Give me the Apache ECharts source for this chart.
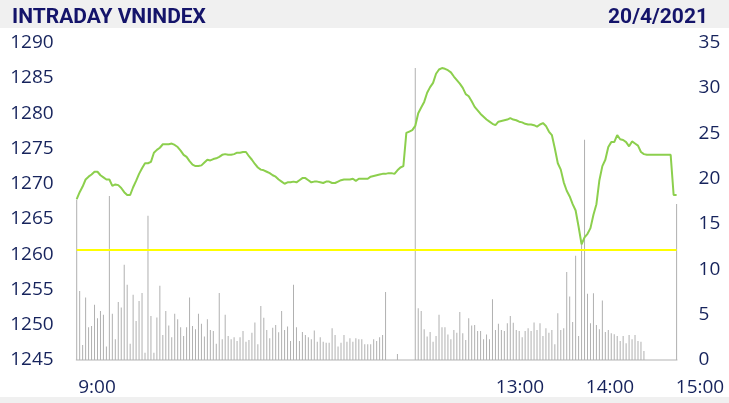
<!DOCTYPE html>
<html>
<head>
<meta charset="utf-8">
<script src="https://cdn.jsdelivr.net/npm/echarts@6/dist/echarts.min.js"></script>
<style>
  html, body { margin: 0; padding: 0; background: #fff; }
  #main { width: 729px; height: 403px; }
</style>
</head>
<body>
<div id="main"></div>
<script>
// VNINDEX intraday, one point per ~1.2 min slot (morning, lunch gap, afternoon, ATC)
var indexValues = [
  1267.8,1268.8,1269.6,1270.6,1271.0,1271.3,1271.7,1271.7,1271.2,1270.9,
  1270.6,1270.6,1269.7,1269.9,1269.8,1269.4,1268.8,1268.4,1268.4,1269.5,
  1270.4,1271.4,1272.2,1272.9,1272.9,1273.1,1274.4,1274.8,1275.1,1275.6,
  1275.6,1275.6,1275.7,1275.5,1275.2,1274.7,1274.1,1273.8,1273.2,1272.7,
  1272.5,1272.5,1272.6,1273.0,1273.4,1273.3,1273.5,1273.6,1273.8,1274.1,
  1274.2,1274.1,1274.1,1274.2,1274.4,1274.4,1274.5,1274.5,1273.9,1273.4,
  1272.8,1272.3,1272.0,1271.9,1271.7,1271.5,1271.2,1271.0,1270.6,1270.3,
  1270.0,1270.2,1270.2,1270.3,1270.2,1270.5,1270.8,1270.8,1270.5,1270.2,
  1270.3,1270.3,1270.2,1270.1,1270.3,1270.3,1270.1,1270.1,1270.3,1270.5,
  1270.6,1270.6,1270.6,1270.7,1270.4,1270.7,1270.7,1270.7,1270.7,1271.0,
  1271.1,1271.2,1271.3,1271.4,1271.4,1271.5,1271.5,1271.4,1271.9,1272.3,
  1272.5,1277.2,1277.4,1277.6,1278.2,1280.0,1280.8,1281.6,1282.9,1283.7,
  1284.3,1285.6,1286.2,1286.4,1286.3,1286.1,1285.8,1285.2,1284.7,1284.2,
  1283.6,1282.7,1282.4,1281.7,1280.9,1280.4,1279.9,1279.5,1279.1,1278.8,
  1278.5,1278.3,1278.8,1278.9,1279.0,1279.1,1279.3,1279.1,1279.0,1278.8,
  1278.7,1278.5,1278.4,1278.4,1278.3,1278.1,1278.4,1278.6,1278.2,1277.4,
  1276.9,1275.0,1272.9,1272.0,1270.2,1269.0,1268.2,1267.1,1266.2,1263.9,
  1261.4,1262.4,1262.9,1263.7,1265.6,1267.1,1270.5,1272.5,1273.4,1275.2,
  1275.9,1275.9,1276.9,1276.3,1276.2,1275.9,1275.3,1276.0,1275.7,1275.4,
  1274.5,1274.2,1274.1,1274.1,1274.1,1274.1,1274.1,1274.1,1274.1,1274.1,
  1274.1,1268.4,1268.4
];

// matched volume per slot (right axis), null where no trade
var volumeValues = [
  17.7,7.6,1.65,6.9,3.6,3.75,6.1,4.6,5.4,5.0,
  1.5,18.1,5.1,2.3,6.4,5.8,10.5,8.3,1.8,7.2,
  4.3,6.5,7.4,0.8,15.9,4.85,0.8,4.7,8.2,2.75,
  5.4,3.8,2.5,5.1,4.5,3.6,2.65,3.6,6.9,3.75,
  3.4,5.1,4.0,2.6,4.5,3.3,3.2,1.8,7.4,2.3,
  5.0,2.65,2.3,2.5,2.1,2.5,3.2,2.0,2.2,3.0,
  4.15,1.75,5.95,4.65,3.3,2.4,3.55,3.85,3.05,5.4,
  3.3,3.7,2.1,8.3,3.6,2.1,3.1,2.75,2.5,2.3,
  3.25,2.0,2.5,2.0,1.9,1.9,3.5,2.75,1.5,1.9,
  2.75,2.0,2.4,2.0,2.4,2.3,2.3,1.75,1.75,1.75,
  2.3,2.1,2.5,2.75,7.5,null,null,null,0.65,null,
  null,null,null,null,32.2,5.7,5.4,3.4,2.6,3.1,
  2.0,2.65,5.0,3.6,3.6,2.8,2.3,3.3,3.0,5.3,
  2.95,2.2,4.6,3.8,3.85,3.2,3.2,2.3,2.8,2.3,
  6.7,3.3,4.0,3.3,3.2,4.05,4.85,4.1,3.3,3.2,
  2.5,3.2,3.5,3.2,4.15,3.3,4.05,2.65,3.5,3.0,
  3.3,1.75,5.15,3.3,3.5,9.7,7.0,4.2,11.5,2.65,
  13.0,24.3,7.3,4.05,7.35,3.85,3.4,6.55,3.1,3.3,
  2.95,2.85,2.65,2.1,2.65,1.85,2.75,2.3,2.75,2.1,
  2.0,1.0,null,null,null,null,null,null,null,null,
  null,null,17.2
];

var prevClose = 1260.6;

var timeLabels = ['9:00', '13:00', '14:00', '15:00'];
var timeSlots = [0, 47, 57, 67];
var slotCount = 68;

var categories = [];
for (var i = 0; i < indexValues.length; i++) categories.push(String(i));

var labelCats = [];
for (var j = 0; j < slotCount; j++) labelCats.push('');
for (var k = 0; k < timeLabels.length; k++) labelCats[timeSlots[k]] = timeLabels[k];

var navy = '#16235c';
var labelFont = { color: navy, fontSize: 19, fontFamily: 'Open Sans' };
var titleFont = { color: '#14146a', fontSize: 21, fontWeight: 'bold', fontFamily: 'Roboto' };

var myChart = echarts.init(document.getElementById('main'));
var option = {
    animation: false,
    backgroundColor: '#fff',
    graphic: [
        { type: 'rect', z: -1, shape: { x: 0, y: 0, width: 729, height: 28 }, style: { fill: '#f0f0f0' } },
        { type: 'rect', z: -1, shape: { x: 0, y: 397, width: 729, height: 6 }, style: { fill: '#f0f0f0' } }
    ],
    title: [
        { text: 'INTRADAY VNINDEX', left: 7, top: 2, textStyle: titleFont },
        { text: '20/4/2021', right: 16, top: 2, textStyle: titleFont }
    ],
    grid: [
        { left: 76.7, right: 52.4, top: 42.7, height: 317.3 },
        { left: 97, right: 29, top: 42.7, height: 317.3 }
    ],
    xAxis: [
        {
            type: 'category', gridIndex: 0, data: categories, boundaryGap: false,
            axisLine: { lineStyle: { color: '#d9d9d9', width: 2 } },
            axisTick: { show: false }, axisLabel: { show: false }, splitLine: { show: false }
        },
        {
            type: 'category', gridIndex: 1, data: labelCats, boundaryGap: false,
            axisLine: { show: false }, axisTick: { show: false }, splitLine: { show: false },
            axisLabel: Object.assign({ interval: 0, margin: 18 }, labelFont)
        }
    ],
    yAxis: [
        {
            type: 'value', gridIndex: 0, min: 1245, max: 1290, interval: 5,
            axisLine: { show: false }, axisTick: { show: false }, splitLine: { show: false },
            axisLabel: Object.assign({ margin: 23, formatter: function (v) { return String(v); } }, labelFont)
        },
        {
            type: 'value', gridIndex: 0, min: 0, max: 35, interval: 5, position: 'right',
            axisLine: { show: false }, axisTick: { show: false }, splitLine: { show: false },
            axisLabel: Object.assign({ margin: 22 }, labelFont)
        },
        {
            type: 'value', gridIndex: 1, show: false
        }
    ],
    series: [
        {
            name: 'KL', type: 'bar', xAxisIndex: 0, yAxisIndex: 1,
            data: volumeValues, barWidth: 1,
            itemStyle: { color: '#b0b0b0' }
        },
        {
            name: 'VNINDEX', type: 'line', xAxisIndex: 0, yAxisIndex: 0,
            data: indexValues, symbol: 'none', z: 3,
            lineStyle: { color: '#8ccf4d', width: 2 },
            markLine: {
                silent: true, symbol: 'none', label: { show: false },
                lineStyle: { color: '#ffff00', width: 2, type: 'solid' },
                data: [{ yAxis: prevClose }]
            }
        }
    ]
};
myChart.setOption(option);
</script>
</body>
</html>
